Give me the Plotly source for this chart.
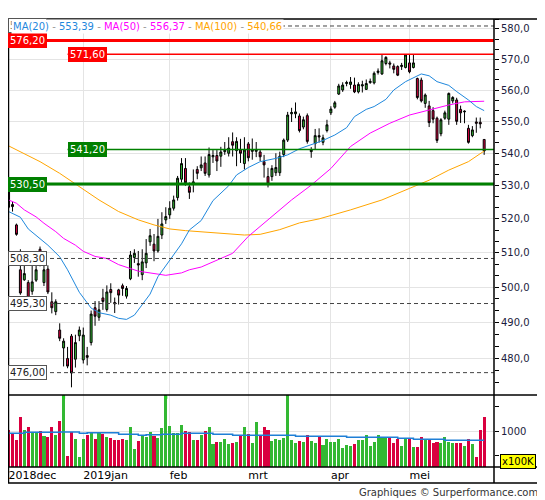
import numpy as np
import pandas as pd
import plotly.graph_objects as go
from plotly.subplots import make_subplots

HOLIDAYS = ["2018-12-25", "2018-12-26", "2019-01-01", "2019-04-19", "2019-04-22", "2019-05-01"]
DATES = [d.strftime("%Y-%m-%d") for d in pd.bdate_range("2018-12-03", "2019-05-29")
         if d.strftime("%Y-%m-%d") not in HOLIDAYS]

OPEN = [531.0, 524.3, 518.2, 505.0, 502.1, 501.3, 498.8, 502.0, 511.0, 501.3,
        505.2, 495.8, 493.0, 487.8, 482.8, 479.9, 486.1, 479.7, 486.2, 479.5,
        480.7, 484.3, 494.1, 491.4, 496.9, 493.6, 499.3, 495.6, 499.2, 500.4,
        497.4, 502.4, 508.6, 506.8, 503.6, 507.0, 513.2, 512.5, 510.5, 515.2,
        519.7, 521.2, 523.2, 526.4, 532.0, 535.3, 529.7, 530.5, 535.0, 535.5,
        537.0, 533.3, 538.9, 539.3, 539.1, 540.5, 540.0, 543.6, 540.8, 541.0,
        536.8, 542.9, 540.6, 540.6, 540.4, 537.4, 532.8, 532.8, 534.0, 534.0,
        539.6, 544.1, 552.4, 552.4, 551.7, 548.2, 551.8, 540.5, 543.0, 545.5,
        543.4, 547.1, 552.7, 554.5, 558.7, 560.0, 562.1, 561.8, 561.6, 559.4,
        561.3, 560.2, 562.4, 562.3, 565.7, 565.2, 568.6, 568.8, 567.8, 567.6,
        567.6, 567.3, 568.8, 567.3, 563.7, 563.2, 555.7, 554.9, 553.4, 551.0,
        546.1, 551.0, 550.7, 556.5, 556.8, 553.8, 553.0, 547.8, 545.5, 549.8,
        549.7, 544.3]
HIGH = [532.0, 525.2, 518.6, 511.0, 507.5, 502.0, 506.5, 510.5, 511.8, 506.7,
        506.3, 498.5, 496.5, 489.7, 485.5, 483.1, 486.7, 486.5, 488.8, 488.5,
        483.1, 493.3, 496.0, 496.0, 499.5, 500.5, 501.1, 497.0, 499.5, 501.0,
        500.3, 510.5, 511.0, 510.5, 511.0, 514.0, 517.0, 515.5, 520.0, 522.0,
        523.5, 525.3, 527.0, 533.0, 538.5, 538.5, 531.0, 535.0, 536.0, 539.0,
        539.0, 541.8, 541.0, 541.0, 542.0, 543.5, 545.0, 546.5, 545.0, 544.5,
        545.0, 543.5, 544.6, 543.5, 541.3, 539.5, 535.5, 536.3, 540.0, 540.5,
        544.6, 553.0, 554.3, 556.0, 552.5, 551.5, 552.5, 541.9, 547.6, 547.8,
        545.8, 550.5, 554.8, 556.5, 562.0, 562.5, 563.0, 564.2, 564.0, 562.5,
        563.0, 563.4, 563.7, 566.0, 567.0, 571.6, 571.0, 569.5, 568.6, 568.0,
        568.8, 571.7, 571.4, 571.4, 564.0, 564.0, 558.9, 556.5, 554.5, 551.5,
        551.0, 553.4, 559.2, 558.0, 557.5, 555.0, 553.5, 548.9, 548.5, 551.2,
        551.2, 544.3]
LOW = [523.0, 522.2, 515.0, 497.8, 501.8, 493.3, 497.8, 501.5, 506.0, 500.3,
       498.0, 492.5, 492.0, 484.7, 477.7, 477.2, 472.0, 477.4, 484.7, 478.5,
       478.0, 483.5, 489.0, 490.4, 493.5, 493.0, 495.5, 492.6, 495.0, 497.5,
       496.7, 502.0, 507.0, 503.0, 502.0, 505.5, 512.0, 507.5, 510.0, 514.0,
       518.5, 520.0, 522.5, 525.5, 531.0, 530.0, 526.0, 528.0, 532.0, 534.5,
       533.0, 532.5, 537.0, 534.5, 535.8, 539.5, 539.0, 539.0, 536.0, 537.0,
       535.0, 537.5, 538.0, 538.8, 537.6, 532.5, 529.5, 531.5, 533.0, 533.0,
       538.8, 543.5, 549.8, 551.0, 546.5, 547.5, 543.0, 538.6, 541.3, 543.3,
       542.5, 546.5, 552.0, 554.0, 558.4, 559.4, 561.2, 560.4, 559.0, 558.9,
       559.2, 560.0, 562.0, 561.8, 565.0, 564.9, 568.0, 567.0, 565.4, 564.5,
       566.5, 567.0, 565.4, 567.0, 557.0, 556.0, 554.3, 548.2, 549.4, 543.2,
       545.3, 550.5, 548.9, 555.7, 548.9, 549.5, 549.4, 543.0, 545.0, 546.4,
       547.8, 539.5]
CLOSE = [523.5, 523.7, 515.4, 498.3, 503.9, 496.5, 501.5, 505.0, 510.0, 505.0,
         498.6, 494.1, 495.8, 485.5, 484.7, 477.8, 475.9, 484.3, 487.8, 486.4,
         480.2, 492.3, 491.7, 493.5, 495.9, 498.6, 498.4, 495.2, 497.7, 499.6,
         499.6, 509.3, 509.8, 506.4, 507.3, 509.8, 515.0, 510.5, 514.8, 518.5,
         520.7, 523.2, 525.7, 532.3, 536.8, 530.9, 528.0, 531.2, 533.8, 536.4,
         533.8, 539.6, 539.3, 537.6, 540.4, 540.9, 541.6, 542.5, 543.7, 540.0,
         541.0, 538.6, 541.0, 541.0, 538.9, 536.4, 530.5, 535.3, 535.6, 539.1,
         544.1, 552.0, 552.8, 553.0, 547.1, 550.5, 543.7, 541.0, 545.5, 545.1,
         544.8, 548.9, 553.9, 555.9, 561.3, 561.6, 562.4, 562.6, 559.4, 561.8,
         561.7, 562.1, 562.8, 565.4, 566.1, 569.5, 570.6, 568.4, 566.7, 564.8,
         568.0, 571.4, 565.9, 568.8, 557.6, 556.5, 558.4, 549.6, 550.7, 544.0,
         550.5, 552.7, 558.9, 557.6, 550.0, 552.7, 553.2, 543.4, 547.3, 549.4,
         549.2, 540.7]
# volume in units of 100K
VOLUME = [1028, 935, 750, 1389, 1028, 1111, 972, 972, 1000, 861,
          833, 1111, 889, 1278, 2100, 306, 972, 778, 278, 778,
          889, 972, 778, 944, 917, 833, 806, 750, 750, 778,
          750, 1111, 500, 722, 889, 833, 972, 861, 806, 1083,
          2100, 1139, 944, 944, 1167, 1000, 972, 750, 750, 889,
          1000, 1111, 639, 694, 694, 778, 639, 667, 694, 889,
          1111, 917, 667, 1250, 889, 1111, 1028, 722, 778, 750,
          806, 2100, 750, 667, 722, 694, 889, 722, 667, 861,
          611, 778, 694, 694, 778, 528, 611, 583, 639, 750,
          750, 889, 583, 694, 889, 833, 833, 833, 667, 778,
          583, 806, 778, 556, 556, 833, 750, 750, 667, 694,
          667, 833, 694, 667, 667, 667, 583, 778, 639, 278,
          1028, 1389]

# moving averages read at sample days (day index into DATES)
MA20_DAY = [0, 3, 5, 8, 10, 13, 15, 18, 21, 23, 26, 28, 30, 32, 34, 36, 38, 41, 44, 46,
            49, 52, 56, 58, 61, 64, 68, 71, 74, 78, 80, 83, 86, 88, 91, 93, 96, 98, 101,
            105, 107, 109, 112, 114, 117, 119, 121]
MA20_VAL = [522.2, 520.5, 517.0, 514.2, 512.2, 508.8, 505.0, 498.5, 494.0, 492.7, 492.0,
            491.1, 490.8, 492.0, 494.9, 498.0, 503.0, 507.9, 512.6, 516.7, 519.5, 525.5,
            530.0, 533.3, 535.6, 537.4, 538.4, 539.5, 541.4, 543.1, 544.0, 545.7, 548.0,
            551.5, 553.8, 554.7, 557.0, 560.0, 562.7, 565.2, 564.6, 562.7, 561.5, 559.5,
            556.8, 554.7, 553.4]
MA50_DAY = [0, 2, 4, 7, 9, 12, 14, 17, 19, 22, 25, 28, 33, 38, 40, 44, 46, 49, 53, 57, 61,
            66, 72, 77, 82, 87, 92, 97, 102, 107, 112, 116, 121]
MA50_VAL = [525.7, 524.7, 522.7, 520.6, 518.7, 516.2, 514.2, 512.2, 510.4, 508.9, 508.3,
            506.5, 504.6, 503.6, 503.4, 504.1, 505.0, 505.8, 507.9, 509.8, 514.8, 519.7,
            525.7, 530.2, 535.3, 542.1, 546.3, 549.4, 552.0, 553.6, 555.2, 556.2, 556.4]
MA100_DAY = [0, 3, 8, 13, 18, 23, 28, 33, 37, 41, 45, 49, 54, 60, 64, 69, 74, 79, 87, 95,
             102, 107, 112, 117, 121]
MA100_VAL = [542.3, 540.5, 537.4, 533.8, 529.8, 525.7, 522.2, 519.7, 518.2, 517.0, 516.5,
             516.2, 515.7, 515.2, 515.4, 516.8, 518.8, 520.0, 522.7, 525.7, 529.2, 531.7,
             534.8, 537.4, 540.7]
VMA_DAY = [0, 4, 13, 18, 20, 28, 33, 35, 39, 44, 52, 57, 73, 86, 99, 103, 111, 121]
VMA_VAL = [935, 963, 972, 935, 954, 907, 880, 898, 907, 935, 907, 880, 852, 824, 796, 769,
           741, 741]

# high-volume signal days (small green squares)
SIGNAL_DAY = [14, 40]

LEGEND_NAMES = ["MA(20)", "MA(50)", "MA(100)"]
LEGEND_VALUES = ["553,39", "556,37", "540,66"]

MONTH_TICKS = ["2018-12-03", "2019-01-02", "2019-02-01", "2019-03-01", "2019-04-01", "2019-05-02"]
MONTH_LABELS = ["2018dec", "2019jan", "feb", "mrt", "apr", "mei"]

PRICE_TICKS = [480, 490, 500, 510, 520, 530, 540, 550, 560, 570, 580]
PRICE_TICK_LABELS = ["480,0", "490,0", "500,0", "510,0", "520,0", "530,0", "540,0",
                     "550,0", "560,0", "570,0", "580,0"]
VOL_TICKS = [1000]
VOL_TICK_LABELS = ["1000"]

LEVELS = [581.0, 576.2, 571.6, 541.2, 530.5, 508.3, 495.3, 476.0]
LEVEL_LABELS = ["581,00", "576,20", "571,60", "541,20", "530,50", "508,30", "495,30", "476,00"]
LEVEL_FROM = [None, None, "2018-12-24", "2018-12-24", None, None, None, None]

# ---------- styles ----------
FONT = "DejaVu Sans"
GREEN = "#33b833"
RED = "#d9003f"
C20, C50, C100 = "#1f88dd", "#ff00ff", "#ffa500"
GRID = "#e4e4e4"
LEVEL_STYLE = {
    581.0: dict(color="#444444", width=1, dash="4px,3px", bg="white", fg="#222", border="#555"),
    576.2: dict(color="#ff0000", width=3, dash="solid", bg="#ff0000", fg="white", border="#ff0000"),
    571.6: dict(color="#ff0000", width=1.5, dash="solid", bg="#ff0000", fg="white", border="#ff0000"),
    541.2: dict(color="#008000", width=1.5, dash="solid", bg="#008000", fg="white", border="#008000"),
    530.5: dict(color="#008000", width=3, dash="solid", bg="#008000", fg="white", border="#008000"),
    508.3: dict(color="#444444", width=1, dash="4px,3px", bg="white", fg="#222", border="#555"),
    495.3: dict(color="#444444", width=1, dash="4px,3px", bg="white", fg="#222", border="#555"),
    476.0: dict(color="#444444", width=1, dash="4px,3px", bg="white", fg="#222", border="#555"),
}

# page is shown with the browser's 8px body margin, so the figure is laid out 8px up/left
W, H = 537, 492
L, R, T, B = 0, 51, 11, 33
PW, PH = W - L - R, H - T - B      # 486 x 448
X_RANGE = [-0.15, 123.5]

fig = make_subplots(rows=2, cols=1, shared_xaxes=True, vertical_spacing=0,
                    row_heights=[376 / 448, 72 / 448])

fig.add_trace(go.Candlestick(x=DATES, open=OPEN, high=HIGH, low=LOW, close=CLOSE,
                             increasing=dict(fillcolor=GREEN, line=dict(color="black", width=1)),
                             decreasing=dict(fillcolor=RED, line=dict(color="black", width=1)),
                             whiskerwidth=0), row=1, col=1)
fig.add_trace(go.Scatter(x=[DATES[i] for i in MA100_DAY], y=MA100_VAL, mode="lines",
                         line=dict(color=C100, width=1), hoverinfo="skip"), row=1, col=1)
fig.add_trace(go.Scatter(x=[DATES[i] for i in MA50_DAY], y=MA50_VAL, mode="lines",
                         line=dict(color=C50, width=1), hoverinfo="skip"), row=1, col=1)
fig.add_trace(go.Scatter(x=[DATES[i] for i in MA20_DAY], y=MA20_VAL, mode="lines",
                         line=dict(color=C20, width=1), hoverinfo="skip"), row=1, col=1)

vol_colors = [GREEN if c >= o else RED for o, c in zip(OPEN, CLOSE)]
fig.add_trace(go.Bar(x=DATES, y=VOLUME, marker=dict(color=vol_colors, line=dict(width=0)),
                     width=0.78), row=2, col=1)
fig.add_trace(go.Scatter(x=[DATES[i] for i in VMA_DAY], y=VMA_VAL, mode="lines",
                         line=dict(color="#1f7fd6", width=1.5, shape="hv"), hoverinfo="skip"),
              row=2, col=1)
fig.add_trace(go.Scatter(x=[DATES[i] for i in SIGNAL_DAY], y=[1935] * len(SIGNAL_DAY),
                         mode="markers", marker=dict(symbol="square", size=3, color="#22cc22",
                                                     line=dict(width=0)),
                         hoverinfo="skip", cliponaxis=False), row=2, col=1)

xcommon = dict(type="category", categoryorder="array", categoryarray=DATES, range=X_RANGE,
               tickmode="array", tickvals=MONTH_TICKS, tickangle=0,
               showgrid=True, gridcolor=GRID, gridwidth=1, ticks="", showline=False,
               zeroline=False, rangeslider=dict(visible=False), fixedrange=True)
fig.update_xaxes(**xcommon)
fig.update_layout(xaxis=dict(showticklabels=False))
fig.update_layout(xaxis2=dict(showticklabels=True, ticktext=MONTH_LABELS,
                              ticklabelposition="outside right",
                              tickfont=dict(family=FONT, size=11, color="black")))

minor_vals = []
for a in range(470, 590, 10):
    minor_vals += [a + 10 / 3, a + 20 / 3]
fig.update_layout(
    yaxis=dict(type="log", range=[np.log10(469.92), np.log10(583.34)], side="right",
               tickmode="array", tickvals=PRICE_TICKS, ticktext=PRICE_TICK_LABELS,
               ticks="outside", ticklen=4, tickcolor="black", tickwidth=1,
               tickfont=dict(family=FONT, size=10, color="#1c1c40"),
               showgrid=True, gridcolor=GRID, zeroline=False, showline=False,
               minor=dict(tickmode="array", tickvals=minor_vals, ticks="outside", ticklen=4,
                          tickcolor="black", showgrid=False)),
    yaxis2=dict(range=[0, 2000], side="right", tickmode="array", tickvals=VOL_TICKS,
                ticktext=VOL_TICK_LABELS, ticks="outside", ticklen=4, tickcolor="black",
                tickfont=dict(family=FONT, size=10, color="#1c1c40"),
                showgrid=True, gridcolor=GRID, zeroline=False, showline=False,
                minor=dict(tickmode="array", tickvals=[333, 1667], ticks="outside",
                           ticklen=4, tickcolor="black", showgrid=False)),
)

# reference-pixel -> paper coordinates
PX = lambda px: (px - 8 - L) / PW
PY = lambda py: (H - B - (py - 8)) / PH

shapes = []
annotations = []
for lvl, lab, start in zip(LEVELS, LEVEL_LABELS, LEVEL_FROM):
    st = LEVEL_STYLE[lvl]
    x0 = X_RANGE[0] if start is None else DATES.index(start)
    shapes.append(dict(type="line", xref="x", yref="y", x0=x0, x1=X_RANGE[1], y0=lvl, y1=lvl,
                       line=dict(color=st["color"], width=st["width"], dash=st["dash"]),
                       layer="above"))
    common = dict(yref="y", y=np.log10(lvl), text=lab, xanchor="left", yanchor="middle",
                  showarrow=False, bgcolor=st["bg"], bordercolor=st["border"], borderwidth=1,
                  borderpad=1, font=dict(family=FONT, size=10, color=st["fg"]))
    if start is None:
        annotations.append(dict(xref="paper", x=0, **common))
    else:
        annotations.append(dict(xref="x", x=x0, **common))

frame = dict(color="black", width=1.5)
shapes += [
    dict(type="rect", xref="paper", yref="paper", x0=0.001, x1=PX(540), y0=PY(483), y1=1, line=frame),
    dict(type="line", xref="paper", yref="paper", x0=0, x1=PX(540), y0=PY(395), y1=PY(395), line=frame),
    dict(type="line", xref="paper", yref="paper", x0=0, x1=PX(540), y0=0, y1=0, line=frame),
    dict(type="line", xref="paper", yref="paper", x0=1, x1=1, y0=PY(483), y1=1, line=frame),
]

sep = "<span style='color:#999999'> - </span>"
cols = [C20, C50, C100]
parts = []
for name, val, c in zip(LEGEND_NAMES, LEGEND_VALUES, cols):
    parts.append(f"<span style='color:{c}'>{name}</span>{sep}<span style='color:{c}'>{val}</span>")
legend_text = sep.join(parts)
annotations.append(dict(xref="paper", yref="paper", x=PX(11), y=PY(26), text=legend_text,
                        xanchor="left", yanchor="middle", showarrow=False, bgcolor="white",
                        borderpad=1, font=dict(family=FONT, size=10)))
annotations.append(dict(xref="paper", yref="paper", x=PX(540), y=PY(492),
                        text="Graphiques © Surperformance.com", xanchor="right", yanchor="middle",
                        showarrow=False, font=dict(family=FONT, size=10, color="#333333")))
annotations.append(dict(xref="paper", yref="paper", x=PX(518), y=PY(461), text="x100K",
                        xanchor="center", yanchor="middle", showarrow=False, bgcolor="#ffff00",
                        bordercolor="black", borderwidth=1, borderpad=1,
                        font=dict(family=FONT, size=10, color="black")))

fig.update_layout(width=W, height=H, margin=dict(l=L, r=R, t=T, b=B),
                  paper_bgcolor="white", plot_bgcolor="white", showlegend=False,
                  shapes=shapes, annotations=annotations, bargap=0,
                  font=dict(family=FONT, size=10))

fig.write_html("out.html")
